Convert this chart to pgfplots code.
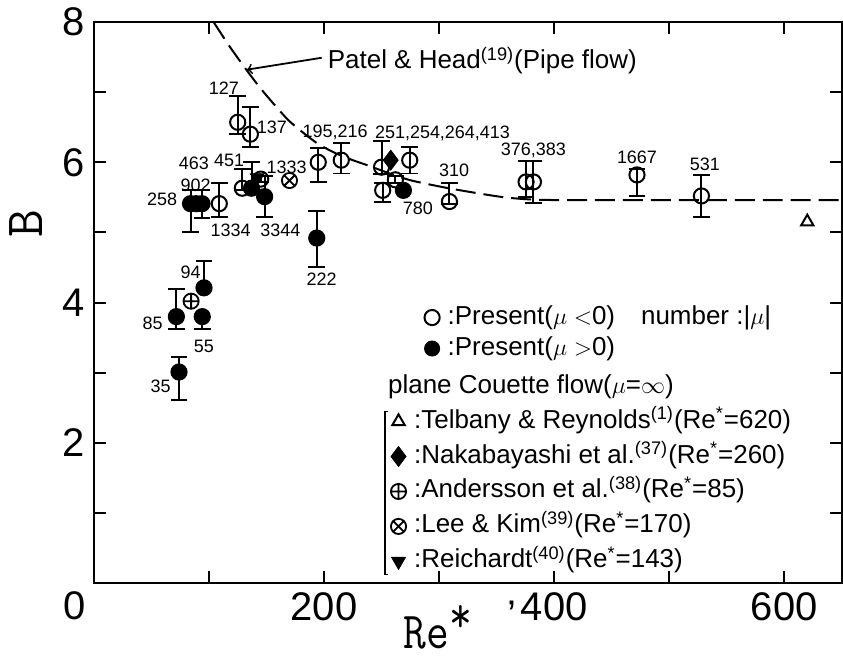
\documentclass[border=0pt]{standalone}
\usepackage{pgfplots}
\pgfplotsset{compat=1.18}
\usepackage{pgfplotstable}
\usepackage{graphicx}
\usepackage{fontspec}
\setmainfont{Liberation Sans}

% Present results, mu < 0 (open circles): Re*, B, upper and lower error
\pgfplotstableread{
x     y     ep    em
125   6.57  0.38  0.17
136   6.40  0.39  0.18
129   5.63  0.27  0.03
109   5.41  0.29  0.19
145   5.76  0.04  0.04
195   6.00  0.21  0.28
215   6.03  0.24  0.19
250   5.93  0.38  0.10
251   5.60  0.10  0.16
262   5.75  0.05  0.05
274.5 6.03  0.19  0.19
309   5.44  0.27  0.04
375.6 5.72  0.30  0.22
382   5.72  0.30  0.30
472   5.82  0.09  0.30
528   5.52  0.30  0.30
}\presentneg

% Present results, mu > 0 (filled circles)
\pgfplotstableread{
x     y     ep    em
84    5.41  0.20  0.40
89    5.41  0.00  0.00
94    5.41  0.20  0.20
137   5.63  0.37  0.00
148.4 5.51  0.29  0.29
193.7 4.92  0.39  0.41
269   5.60  0.00  0.00
95.7  4.21  0.38  0.00
94.2  3.80  0.00  0.18
71.7  3.80  0.40  0.18
74    3.01  0.21  0.40
}\presentpos

\newcommand\lblfont{\fontsize{9}{9}\selectfont}
\newcommand\legfont{\fontsize{13}{14}\selectfont}

\begin{document}
\begin{tikzpicture}
\begin{axis}[
  at={(0,0)}, anchor=south west,
  scale only axis, width=374.5pt, height=281pt,
  xmin=0, xmax=650, ymin=0, ymax=8,
  xtick={0,100,...,600}, xticklabels={,,200,,400,,600},
  ytick={0,1,...,8}, yticklabels={,,2,,4,,6,,8},
  tick align=inside, tick pos=both, major tick length=6pt,
  axis line style={line width=1.2pt},
  every tick/.style={black, line width=1pt},
  ticklabel style={font=\fontsize{20}{20}\selectfont},
  /pgf/number format/assume math mode=true,
  xticklabel style={yshift=-1pt},
  yticklabel style={xshift=-1pt},
  xlabel={\scalebox{0.85}[1]{Re\raisebox{0.3em}{*}}},
  xlabel style={font=\ttfamily\fontsize{26}{26}\selectfont,
    at={(rel axis cs:0.46,0)}, anchor=center, yshift=-22pt},
  ylabel={B},
  ylabel style={font=\ttfamily\fontsize{27}{27}\selectfont,
    at={(rel axis cs:0,0.64)}, anchor=center, yshift=34pt},
  clip=false,
  legend style={at={(axis cs:287,3.97)}, anchor=north west, draw=none, fill=none,
    inner sep=0pt, font=\legfont, row sep=3pt, column sep=0pt,
    nodes={inner sep=0pt, text height=9.5pt, text depth=3pt},
    /tikz/every odd column/.style={column sep=4pt}},
  legend cell align=left,
]

% Patel & Head pipe-flow correlation
\addplot[black, line width=1pt, dash pattern=on 10pt off 4pt, smooth, tension=0.4, forget plot]
  coordinates {(104,8.0) (118,7.65) (132,7.33) (145,7.05) (158,6.8) (169,6.6)
  (182,6.42) (195,6.26) (210,6.13) (225,6.03) (239,5.95) (257,5.84) (276,5.74)
  (305,5.64) (333,5.56) (357,5.50) (380,5.47) (420,5.46) (650,5.46)};

% present data with error bars
\addplot[black, only marks, mark=o, mark size=3.8pt, line width=1pt, forget plot,
  error bars/.cd, y dir=both, y explicit, error bar style={line width=1pt},
  error mark options={rotate=90, mark size=4.2pt, line width=1pt}]
  table[x=x, y=y, y error plus=ep, y error minus=em] {\presentneg};
\addplot[black, only marks, mark=*, mark size=3.8pt, line width=1pt, forget plot,
  error bars/.cd, y dir=both, y explicit, error bar style={line width=1pt},
  error mark options={rotate=90, mark size=4.2pt, line width=1pt}]
  table[x=x, y=y, y error plus=ep, y error minus=em] {\presentpos};

% plane Couette flow results
\addplot[black, only marks, mark=triangle, mark size=3.6pt, line width=1pt, forget plot]
  coordinates {(620,5.15)};
\addplot[black, only marks, mark=diamond*, mark size=5pt, forget plot]
  coordinates {(258,6.03)};
\addplot[black, only marks, mark=oplus, mark size=3.8pt, line width=0.9pt, forget plot]
  coordinates {(84.5,4.02)};
\addplot[black, only marks, mark=otimes, mark size=3.8pt, line width=0.9pt, forget plot]
  coordinates {(170,5.74)};
\addplot[black, only marks, mark=triangle*, mark size=4pt, mark options={rotate=180}, forget plot]
  coordinates {(142,5.78)};

% |mu| labels
\begin{scope}[every node/.style={font=\lblfont, inner sep=0pt}]
\node at (axis cs:113,7.05) {127};
\node at (axis cs:154.6,6.5) {137};
\node at (axis cs:117.5,6.03) {451};
\node at (axis cs:87,5.99) {463};
\node at (axis cs:88.5,5.67) {902};
\node at (axis cs:59.4,5.47) {258};
\node at (axis cs:118.8,5.03) {1334};
\node at (axis cs:162,5.03) {3344};
\node at (axis cs:167.5,5.93) {1333};
\node at (axis cs:209.6,6.43) {195,216};
\node at (axis cs:198,4.33) {222};
\node[anchor=west] at (axis cs:244,6.41) {251,254,264,413};
\node at (axis cs:281.6,5.35) {780};
\node at (axis cs:313,5.89) {310};
\node at (axis cs:382,6.17) {376,383};
\node at (axis cs:472,6.07) {1667};
\node at (axis cs:531,5.97) {531};
\node at (axis cs:84,4.43) {94};
\node at (axis cs:51,3.7) {85};
\node at (axis cs:95.7,3.37) {55};
\node at (axis cs:58,2.81) {35};
\end{scope}

% shared origin label and the stray mark beside the 400 label
\node[font=\fontsize{20}{20}\selectfont, anchor=east, inner sep=0pt] at ([xshift=-4pt,yshift=-11.5pt]axis cs:0,0) {0};
\node[font=\fontsize{20}{20}\selectfont, inner sep=0pt] at (axis cs:363,-0.45) {’};

% annotation of the pipe-flow curve
\draw[->, line width=0.9pt] (axis cs:198,7.49) -- (axis cs:133,7.32);
\node[anchor=west, font=\legfont, inner sep=0pt] at (axis cs:203,7.45)
  {Patel \& Head\textsuperscript{(19)}(Pipe flow)};

\addlegendimage{black, only marks, mark=o, mark size=3.8pt, line width=1pt}
\addlegendentry{:Present($\mu<$0)\quad number :|$\mu$|}
\addlegendimage{black, only marks, mark=*, mark size=3.8pt}
\addlegendentry{:Present($\mu>$0)}
\end{axis}

% second (hidden) axis carrying the plane Couette flow legend
\begin{axis}[
  at={(0,0)}, anchor=south west,
  scale only axis, width=374.5pt, height=281pt,
  xmin=0, xmax=650, ymin=0, ymax=8, hide axis, clip=false,
  legend style={at={(axis cs:249.6,3.0)}, anchor=north west, draw=none, fill=none,
    inner sep=0pt, font=\legfont, row sep=4pt, column sep=0pt,
    nodes={inner sep=0pt, text height=10pt, text depth=3.5pt},
    /tikz/every odd column/.style={column sep=4pt}},
  legend cell align=left,
]
\addlegendimage{empty legend}
\addlegendentry{\hspace*{-13pt}plane Couette flow($\mu$=$\infty$)}
\addlegendimage{black, only marks, mark=triangle, mark size=3.6pt, line width=1pt}
\addlegendentry{:Telbany \& Reynolds\textsuperscript{(1)}(Re\textsuperscript{*}=620)}
\addlegendimage{black, only marks, mark=diamond*, mark size=5pt}
\addlegendentry{:Nakabayashi et al.\textsuperscript{(37)}(Re\textsuperscript{*}=260)}
\addlegendimage{black, only marks, mark=oplus, mark size=3.8pt, line width=0.9pt}
\addlegendentry{:Andersson et al.\textsuperscript{(38)}(Re\textsuperscript{*}=85)}
\addlegendimage{black, only marks, mark=otimes, mark size=3.8pt, line width=0.9pt}
\addlegendentry{:Lee \& Kim\textsuperscript{(39)}(Re\textsuperscript{*}=170)}
\addlegendimage{black, only marks, mark=triangle*, mark size=4pt, mark options={rotate=180}}
\addlegendentry{:Reichardt\textsuperscript{(40)}(Re\textsuperscript{*}=143)}
% bracket grouping the plane Couette flow entries
\draw[line width=0.7pt] (axis cs:256,2.45) -- (axis cs:253,2.45) -- (axis cs:253,0.12) -- (axis cs:256,0.12);
\end{axis}
\useasboundingbox (-47pt,-39.5pt) rectangle (374.5pt,292pt);
\end{tikzpicture}
\end{document}
